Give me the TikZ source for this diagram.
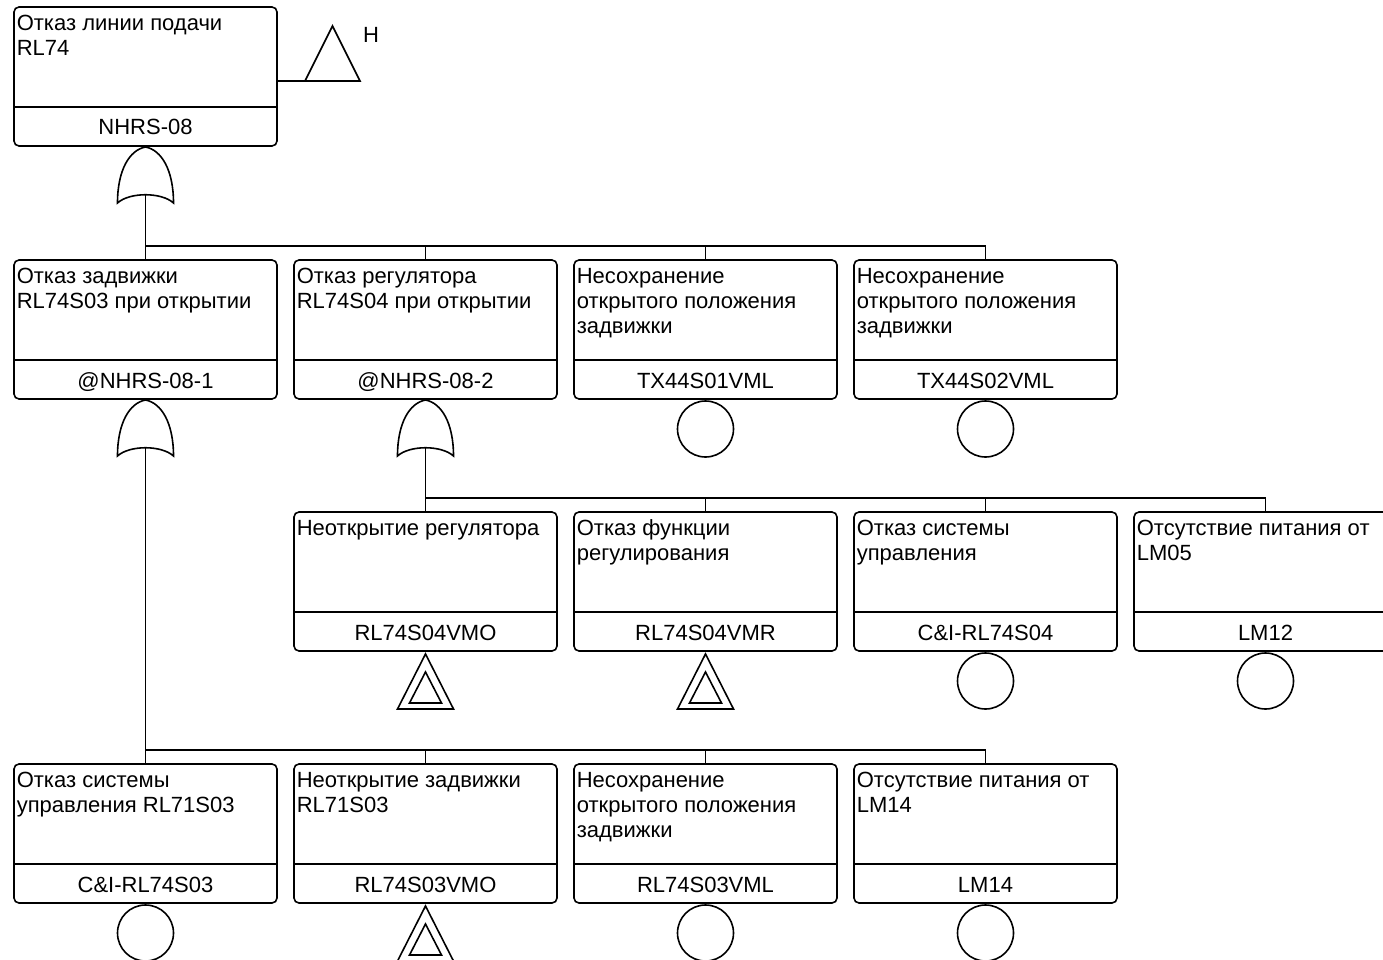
\documentclass[tikz,border=0pt]{standalone}
\usepackage{fontspec}
\setmainfont{Liberation Sans}
\usetikzlibrary{positioning}

\tikzset{
  evbox/.style={draw, rounded corners=5pt, minimum width=263pt, minimum height=139pt,
    inner sep=0pt, outer sep=0pt, anchor=north west},
  evtitle/.style={anchor=north west, inner sep=0pt, align=left,
    font=\fontsize{22}{25}\selectfont},
  evcode/.style={anchor=base, inner sep=0pt, font=\fontsize{22}{25}\selectfont},
  basic/.style={draw, circle, minimum size=56pt, inner sep=0pt, outer sep=0pt, anchor=north},
  orgate/.pic={
    \draw (-28,56) .. controls (-28,23) and (-16,3) .. (0,0)
      .. controls (16,3) and (28,23) .. (28,56)
      .. controls (16,45) and (-16,45) .. cycle;
    \coordinate (-in) at (0,48);
  },
  undev/.pic={
    \draw (0,3) -- (28,58) -- (-28,58) -- cycle;
    \draw (0,21) -- (16,52) -- (-16,52) -- cycle;
  },
}

% one event box: name, left, top, title, code
\newcommand{\event}[5]{%
  \node[evbox] (#1) at (#2,#3) {};
  \node[evtitle] (#1-t) at ([xshift=2pt,yshift=-5pt]#1.north west) {\strut #4};
  \draw ([yshift=39pt]#1.south west) -- ([yshift=39pt]#1.south east);
  \node[evcode] (#1-c) at ([yshift=11pt]#1.south) {#5};
}

\begin{document}
\begin{tikzpicture}[x=1pt,y=-1pt,line width=1.6pt,line join=miter]
\useasboundingbox (0,0) rectangle (1383,960);

% top event
\event{e0}{14}{7}{Отказ линии подачи\\RL74}{NHRS-08}
\coordinate (tr) at (305,81);
\draw (e0.east |- tr) -- (tr);
\draw (tr) -- ++(55,0) -- ++(-27.5,-55) -- cycle;
\node[evcode] (lblH) at (371,43) {H};
\pic (g0) at ([yshift=-1pt]e0.south) {orgate};

% first level
\event{e11}{14}{260}{Отказ задвижки\\RL74S03 при открытии}{@NHRS-08-1}
\event{e12}{294}{260}{Отказ регулятора\\RL74S04 при открытии}{@NHRS-08-2}
\event{e13}{574}{260}{Несохранение\\открытого положения\\задвижки}{TX44S01VML}
\event{e14}{854}{260}{Несохранение\\открытого положения\\задвижки}{TX44S02VML}
\coordinate (bar1) at (0,246);
\foreach \c in {e11,e12,e13,e14}
  \draw (g0-in) -- (g0-in |- bar1) -| (\c.north);
\pic (g11) at ([yshift=-1pt]e11.south) {orgate};
\pic (g12) at ([yshift=-1pt]e12.south) {orgate};
\node[basic] (b13) at ([yshift=-2pt]e13.south) {};
\node[basic] (b14) at ([yshift=-2pt]e14.south) {};

% second level
\event{e21}{294}{512}{Неоткрытие регулятора}{RL74S04VMO}
\event{e22}{574}{512}{Отказ функции\\регулирования}{RL74S04VMR}
\event{e23}{854}{512}{Отказ системы\\управления}{C\&I-RL74S04}
\event{e24}{1134}{512}{Отсутствие питания от\\LM05}{LM12}
\coordinate (bar2) at (0,498);
\foreach \c in {e21,e22,e23,e24}
  \draw (g12-in) -- (g12-in |- bar2) -| (\c.north);
\pic at (e21.south) {undev};
\pic at (e22.south) {undev};
\node[basic] (b23) at ([yshift=-2pt]e23.south) {};
\node[basic] (b24) at ([yshift=-2pt]e24.south) {};

% third level
\event{e31}{14}{764}{Отказ системы\\управления RL71S03}{C\&I-RL74S03}
\event{e32}{294}{764}{Неоткрытие задвижки\\RL71S03}{RL74S03VMO}
\event{e33}{574}{764}{Несохранение\\открытого положения\\задвижки}{RL74S03VML}
\event{e34}{854}{764}{Отсутствие питания от\\LM14}{LM14}
\coordinate (bar3) at (0,750);
\foreach \c in {e31,e32,e33,e34}
  \draw (g11-in) -- (g11-in |- bar3) -| (\c.north);
\node[basic] (b31) at ([yshift=-2pt]e31.south) {};
\pic at (e32.south) {undev};
\node[basic] (b33) at ([yshift=-2pt]e33.south) {};
\node[basic] (b34) at ([yshift=-2pt]e34.south) {};
\end{tikzpicture}
\end{document}
